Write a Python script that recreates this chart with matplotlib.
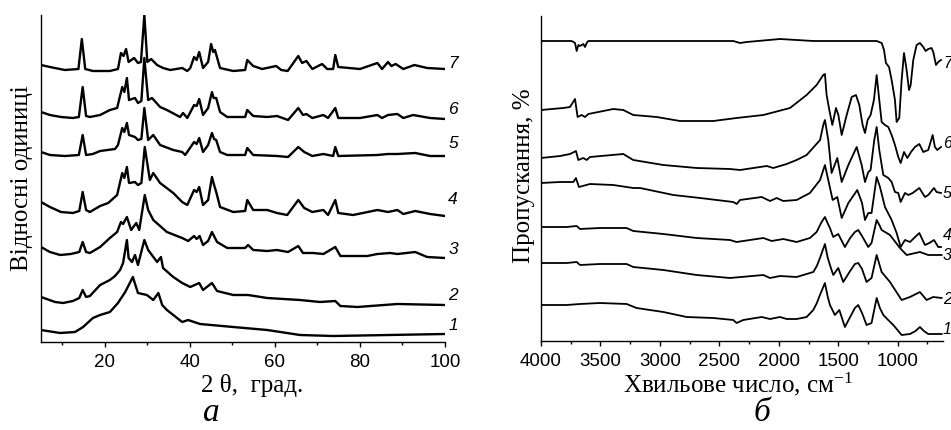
import matplotlib
matplotlib.use('Agg')
import matplotlib.pyplot as plt
from matplotlib.ticker import FixedLocator

plt.rcParams['font.family'] = ['Liberation Sans', 'DejaVu Sans']
plt.rcParams['mathtext.fontset'] = 'custom'
plt.rcParams['mathtext.rm'] = 'Liberation Serif'
plt.rcParams['mathtext.it'] = 'Liberation Serif:italic'

SERIF = ['Liberation Serif', 'DejaVu Serif']
SANS = ['Liberation Sans', 'DejaVu Sans']

# ---------------- XRD data (2 theta, relative intensity) ----------------
xrd_theta_1 = [5.0, 9.5, 13.0, 14.9, 17.2, 18.9, 21.2, 23.1, 24.8, 26.6, 27.8, 29.9, 31.4, 32.6, 33.5, 34.6,
               38.2, 39.6, 42.4, 50.2, 58.2, 65.9, 73.7, 100]
xrd_int_1 = [12, 9, 10, 15, 24, 27, 30, 39, 50, 65, 49, 47, 42, 49, 37, 32, 20, 22, 18, 15, 12, 7, 6, 8]

xrd_theta_2 = [5.0, 8.3, 10.2, 12.5, 14.0, 14.8, 15.6, 16.5, 18.9, 21.2, 22.4, 23.6, 24.3, 25.2, 25.6, 26.4,
               27.1, 27.8, 29.3, 30.2, 31.6, 32.3, 33.2, 33.7, 36.1, 38.2, 40.1, 42.2, 43.1, 45.2, 46.4,
               50.2, 53.7, 58.2, 65.9, 70.6, 74.2, 75.4, 79.4, 88.8, 100]
xrd_int_2 = [45, 40, 39, 41, 44, 52, 45, 46, 57, 62, 66, 72, 79, 102, 84, 80, 87, 77, 102, 92, 84, 80, 85, 74,
             65, 59, 55, 59, 52, 59, 51, 47, 47, 44, 42, 40, 41, 36, 35, 38, 37]

xrd_theta_3 = [5.0, 7.1, 9.5, 12.0, 14.0, 14.8, 15.6, 16.5, 18.9, 21.2, 22.9, 23.8, 24.3, 25.2, 26.2, 27.4,
               28.1, 29.4, 30.2, 31.4, 34.6, 38.2, 39.6, 41.0, 41.6, 42.3, 43.1, 44.3, 45.2, 46.4, 48.8,
               53.0, 53.7, 54.9, 58.2, 60.5, 63.1, 65.5, 66.6, 69.0, 71.4, 74.2, 75.4, 81.7, 84.1, 87.1,
               88.8, 93.0, 95.8, 100]
xrd_int_3 = [95, 90, 87, 88, 90, 100, 90, 89, 95, 104, 110, 120, 118, 125, 112, 119, 112, 147, 132, 122, 110,
             104, 101, 106, 103, 106, 97, 101, 110, 100, 94, 94, 97, 92, 91, 92, 90, 96, 89, 89, 88, 95, 86,
             86, 88, 89, 88, 90, 85, 84]

xrd_theta_4 = [5.0, 7.1, 9.7, 12.5, 14.0, 14.8, 15.6, 16.5, 18.9, 20.8, 22.9, 24.1, 24.6, 25.2, 25.7, 27.1,
               27.8, 28.6, 29.4, 30.6, 31.4, 33.0, 36.1, 38.2, 39.4, 41.0, 41.6, 42.2, 43.1, 44.3, 45.2,
               45.7, 46.2, 47.1, 50.2, 53.0, 53.5, 54.9, 58.2, 60.5, 62.9, 65.5, 66.9, 68.8, 71.4, 72.5,
               74.2, 74.9, 78.4, 84.1, 86.6, 88.8, 90.2, 93.0, 96.5, 100]
xrd_int_4 = [140, 135, 130, 129, 131, 150, 132, 130, 136, 139, 147, 169, 164, 175, 159, 160, 157, 159, 195,
             162, 169, 159, 149, 140, 137, 152, 150, 155, 137, 142, 165, 157, 150, 135, 130, 131, 142, 132,
             132, 129, 127, 142, 134, 130, 132, 127, 142, 129, 127, 132, 130, 132, 128, 131, 128, 126]

xrd_theta_5 = [5.0, 7.1, 10.6, 13.9, 14.8, 15.6, 17.2, 18.9, 22.4, 23.1, 24.1, 24.6, 25.2, 25.7, 27.1, 27.8,
               28.6, 29.3, 30.2, 31.4, 33.0, 36.1, 38.2, 38.9, 41.0, 41.6, 42.2, 43.1, 44.3, 45.2, 45.7,
               46.2, 47.1, 48.8, 53.0, 53.5, 54.9, 60.5, 63.1, 65.5, 66.9, 68.8, 71.4, 73.7, 74.2, 74.9,
               84.1, 86.6, 88.8, 93.0, 96.5, 100]
xrd_int_5 = [190, 187, 186, 187, 207, 187, 188, 191, 193, 197, 214, 210, 219, 207, 205, 202, 203, 234, 202,
             207, 197, 192, 190, 187, 200, 198, 204, 190, 197, 209, 203, 202, 190, 187, 187, 194, 187, 186,
             185, 195, 190, 186, 188, 186, 195, 186, 187, 188, 188, 189, 186, 186]

xrd_theta_6 = [5.0, 7.1, 9.7, 12.5, 13.9, 14.8, 15.6, 16.5, 18.9, 21.2, 22.9, 24.1, 24.6, 25.2, 25.7, 27.1,
               27.8, 28.6, 29.3, 30.2, 31.1, 33.0, 34.6, 37.7, 38.4, 39.4, 41.0, 41.6, 42.2, 43.1, 44.3,
               45.2, 45.6, 46.2, 47.1, 48.8, 53.0, 53.5, 54.9, 58.2, 60.5, 63.1, 65.5, 66.6, 67.4, 68.8,
               71.4, 72.5, 74.2, 74.9, 80.0, 84.1, 85.2, 86.6, 88.8, 90.2, 92.5, 96.5, 100]
xrd_int_6 = [230, 227, 225, 224, 225, 255, 226, 225, 227, 232, 234, 255, 250, 264, 242, 244, 239, 241, 284,
             242, 244, 235, 232, 225, 229, 224, 237, 236, 243, 227, 234, 250, 244, 244, 230, 225, 225, 232,
             226, 225, 226, 222, 234, 227, 228, 224, 227, 224, 234, 224, 224, 227, 224, 227, 228, 224, 227,
             224, 223]

xrd_theta_7 = [5.0, 7.1, 10.6, 13.8, 14.6, 15.4, 17.2, 21.2, 23.1, 23.8, 24.4, 25.0, 25.6, 26.9, 27.8, 28.5,
               29.3, 30.0, 30.9, 32.3, 33.7, 35.4, 38.2, 39.4, 40.1, 41.0, 41.6, 42.2, 43.1, 44.3, 45.0,
               45.5, 45.9, 47.1, 50.2, 53.0, 53.5, 54.9, 57.0, 60.3, 61.5, 63.0, 65.5, 66.4, 67.4, 68.8,
               71.1, 72.3, 73.7, 74.2, 74.9, 80.0, 84.1, 85.2, 86.6, 87.4, 88.4, 90.2, 92.8, 95.8, 100]
xrd_int_7 = [277, 275, 272, 273, 303, 273, 271, 271, 273, 289, 286, 293, 280, 284, 279, 280, 327, 280, 283,
             277, 274, 272, 274, 271, 274, 285, 282, 290, 274, 280, 298, 290, 292, 274, 271, 272, 282, 276,
             273, 276, 272, 271, 286, 279, 281, 273, 278, 273, 273, 287, 275, 273, 279, 273, 280, 276, 278,
             273, 277, 274, 273]

xrd_labels = ['1', '2', '3', '4', '5', '6', '7']
xrd_label_y = [17, 47, 92, 142, 199, 232, 279]

# ---------------- IR data (wavenumber, relative transmittance) ----------------
ir_nu_1 = [4000, 3784, 3672, 3504, 3280, 3196, 2971, 2775, 2551, 2383, 2355, 2299, 2144, 2074, 1990, 1934,
           1850, 1766, 1710, 1680, 1654, 1612, 1590, 1570, 1528, 1491, 1444, 1400, 1360, 1332, 1300, 1262,
           1220, 1177, 1150, 1121, 1080, 1037, 967, 897, 850, 813, 780, 743, 631]
ir_t_1 = [36, 36, 37, 38, 37, 33, 29, 24, 23, 21, 18, 21, 24, 22, 24, 22, 22, 24, 31, 38, 46, 58, 45, 36, 26,
          31, 14, 24, 33, 36, 28, 16, 18, 43, 33, 26, 21, 16, 6, 7, 10, 14, 10, 7, 7]

ir_nu_2 = [4000, 3784, 3700, 3672, 3504, 3280, 3224, 2971, 2691, 2411, 2130, 2074, 1990, 1850, 1710, 1680,
           1654, 1612, 1590, 1570, 1542, 1500, 1458, 1400, 1360, 1332, 1300, 1262, 1220, 1177, 1150, 1135,
           1065, 967, 897, 813, 757, 701, 631]
ir_t_2 = [78, 78, 79, 76, 77, 77, 74, 71, 66, 63, 66, 63, 65, 64, 69, 75, 83, 97, 84, 76, 66, 73, 59, 70, 77,
          78, 72, 59, 63, 86, 75, 69, 59, 41, 44, 49, 41, 44, 43]

ir_nu_3 = [4000, 3784, 3700, 3672, 3504, 3280, 3224, 2971, 2691, 2411, 2355, 2130, 2060, 1962, 1850, 1738,
           1682, 1640, 1612, 1590, 1570, 1542, 1500, 1444, 1400, 1360, 1332, 1300, 1248, 1220, 1177, 1150,
           1135, 1065, 981, 925, 813, 743, 631]
ir_t_3 = [114, 114, 115, 112, 113, 113, 110, 107, 103, 101, 99, 103, 100, 102, 99, 103, 109, 119, 124, 118,
          113, 104, 107, 94, 103, 109, 111, 105, 94, 98, 121, 115, 111, 106, 93, 86, 89, 86, 86]

ir_nu_4 = [4000, 3840, 3728, 3706, 3681, 3588, 3392, 3224, 3167, 2887, 2662, 2383, 2354, 2326, 2144, 2074,
           2018, 1962, 1850, 1738, 1653, 1612, 1584, 1547, 1508, 1471, 1415, 1340, 1300, 1275, 1247, 1220,
           1177, 1149, 1107, 1051, 1009, 975, 939, 897, 818, 771, 734, 695, 659, 636]
ir_t_4 = [158, 159, 159, 163, 154, 157, 156, 153, 153, 146, 143, 139, 137, 141, 144, 140, 143, 140, 141, 148,
          161, 176, 161, 141, 144, 123, 138, 151, 138, 121, 128, 128, 164, 154, 134, 121, 108, 94, 101, 99,
          108, 96, 98, 101, 94, 94]

ir_nu_5 = [4000, 3840, 3756, 3706, 3686, 3644, 3616, 3588, 3308, 3224, 2971, 2691, 2411, 2326, 2158, 2102,
           2046, 1934, 1850, 1766, 1653, 1626, 1612, 1584, 1556, 1508, 1471, 1415, 1345, 1303, 1275, 1247,
           1228, 1197, 1177, 1155, 1121, 1079, 1051, 1023, 995, 975, 939, 911, 874, 818, 771, 743, 695,
           673, 636]
ir_t_5 = [183, 185, 187, 190, 181, 183, 181, 184, 187, 181, 176, 173, 172, 171, 174, 175, 173, 177, 181, 186,
          201, 216, 221, 201, 168, 183, 159, 176, 194, 176, 159, 169, 171, 201, 214, 191, 166, 163, 159, 149,
          148, 139, 148, 146, 148, 153, 144, 146, 153, 149, 148]

ir_nu_6 = [4000, 3812, 3756, 3714, 3692, 3658, 3630, 3602, 3392, 3308, 3224, 3027, 2831, 2551, 2355, 2130,
           1906, 1766, 1682, 1626, 1612, 1598, 1575, 1550, 1519, 1499, 1471, 1429, 1387, 1351, 1323, 1295,
           1275, 1253, 1228, 1200, 1177, 1155, 1135, 1107, 1079, 1051, 1023, 995, 975, 947, 919, 888, 855,
           818, 785, 743, 706, 687, 667, 636]
ir_t_6 = [231, 233, 234, 242, 224, 226, 224, 227, 232, 231, 226, 224, 220, 220, 223, 226, 233, 246, 256, 266,
          267, 246, 231, 216, 233, 226, 206, 226, 244, 246, 236, 216, 208, 221, 226, 241, 266, 241, 219, 216,
          214, 206, 196, 184, 178, 189, 183, 189, 194, 197, 189, 191, 206, 194, 191, 194]

ir_nu_7 = [4000, 3742, 3714, 3700, 3686, 3672, 3644, 3630, 3616, 3602, 3392, 2831, 2383, 2327, 2270, 1990,
           1710, 1177, 1135, 1115, 1099, 1073, 1051, 1023, 1009, 987, 967, 947, 925, 905, 891, 869, 841,
           813, 785, 765, 743, 715, 701, 678, 659, 636]
ir_t_7 = [300, 300, 298, 290, 296, 295, 297, 294, 298, 300, 300, 300, 300, 298, 299, 302, 300, 300, 298, 291,
          278, 274, 261, 241, 219, 223, 261, 288, 271, 251, 256, 281, 296, 298, 294, 290, 292, 293, 289, 276,
          279, 281]

ir_labels = ['1', '2', '3', '4', '5', '6', '7']
ir_label_y = [11, 41, 86, 106, 148, 198, 278]

# ---------------- figure ----------------
W, H = 951, 430
fig = plt.figure(figsize=(W / 100, H / 100), dpi=100)


def frac_axes(x0, x1, ytop, ybot):
    return fig.add_axes([x0 / W, 1 - ybot / H, (x1 - x0) / W, (ybot - ytop) / H])


def style(ax):
    for s in ('top', 'right'):
        ax.spines[s].set_visible(False)
    for s in ('left', 'bottom'):
        ax.spines[s].set_linewidth(1.0)
    ax.tick_params(axis='x', which='major', direction='out', length=3.8, width=1.0,
                   labelsize=13.5, pad=4.5)
    ax.tick_params(axis='x', which='minor', direction='out', length=2.5, width=1.0)
    ax.tick_params(axis='y', which='both', length=0, labelleft=False)
    for lab in ax.get_xticklabels():
        lab.set_fontfamily(SANS)


# Left panel: XRD
ax1 = frac_axes(41, 445, 15, 342)
xrd = [(xrd_theta_1, xrd_int_1), (xrd_theta_2, xrd_int_2), (xrd_theta_3, xrd_int_3),
       (xrd_theta_4, xrd_int_4), (xrd_theta_5, xrd_int_5), (xrd_theta_6, xrd_int_6),
       (xrd_theta_7, xrd_int_7)]
for (tx, ty) in xrd:
    ax1.plot(tx, ty, color='black', lw=1.7, solid_joinstyle='round')
ax1.set_xlim(5, 100)
ax1.set_ylim(0, 327)
ax1.xaxis.set_major_locator(FixedLocator([20, 40, 60, 80, 100]))
ax1.xaxis.set_minor_locator(FixedLocator([10, 30, 50, 70, 90]))
ax1.set_yticks([])
style(ax1)
for lab, yy in zip(xrd_labels, xrd_label_y):
    ax1.text(101.9, yy, lab, ha='center', va='center', fontsize=12.5, style='italic',
             family=SANS, clip_on=False)

# Right panel: IR
ax2 = frac_axes(541, 943, 16, 341)
ir = [(ir_nu_1, ir_t_1), (ir_nu_2, ir_t_2), (ir_nu_3, ir_t_3), (ir_nu_4, ir_t_4),
      (ir_nu_5, ir_t_5), (ir_nu_6, ir_t_6), (ir_nu_7, ir_t_7)]
for (nx, ny) in ir:
    ax2.plot(nx, ny, color='black', lw=1.3, solid_joinstyle='round')
ax2.set_xlim(4000, 619)
ax2.set_ylim(0, 325)
ax2.xaxis.set_major_locator(FixedLocator([4000, 3500, 3000, 2500, 2000, 1500, 1000]))
ax2.xaxis.set_minor_locator(FixedLocator([3750, 3250, 2750, 2250, 1750, 1250, 750]))
ax2.set_yticks([])
style(ax2)
for lab, yy in zip(ir_labels, ir_label_y):
    ax2.text(0.9999, yy, lab, ha='left', va='center', fontsize=11.5, style='italic',
             family=SANS, clip_on=False,
             transform=ax2.get_yaxis_transform())

# Axis titles and panel letters
fig.text(22 / W, 1 - 178 / H, 'Відносні одиниці', rotation=90, ha='center', va='center',
         fontsize=18, family=SERIF)
fig.text(524 / W, 1 - 176 / H, 'Пропускання, %', rotation=90, ha='center', va='center',
         fontsize=18, family=SERIF)
fig.text(252 / W, 1 - 392 / H, '2 θ,  град.', ha='center', va='baseline',
         fontsize=18, family=SERIF)
fig.text(738 / W, 1 - 392 / H, 'Хвильове число, см$^{-1}$', ha='center', va='baseline',
         fontsize=18, family=SERIF)
fig.text(211 / W, 1 - 421 / H, 'а', ha='center', va='baseline', fontsize=24,
         style='italic', family=SERIF)
fig.text(762 / W, 1 - 421 / H, 'б', ha='center', va='baseline', fontsize=24,
         style='italic', family=SERIF)

fig.savefig('out.png', dpi=100)
